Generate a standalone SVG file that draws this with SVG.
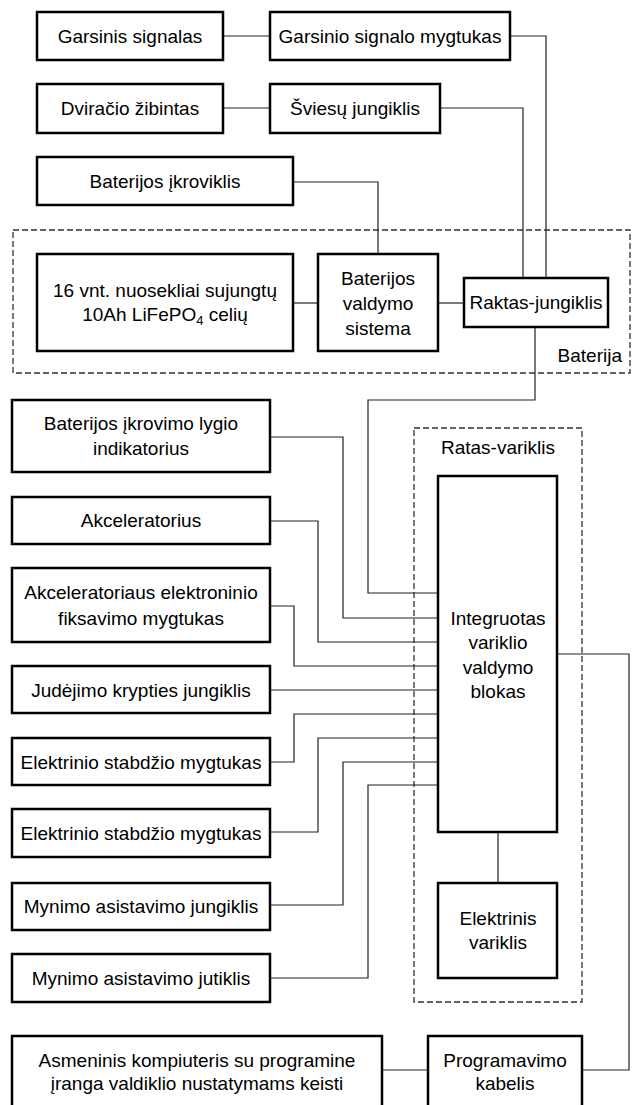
<svg xmlns="http://www.w3.org/2000/svg" width="635" height="1105" viewBox="0 0 635 1105">
<style>
  .box { fill: #fff; stroke: #000; stroke-width: 2.5; }
  .grp { fill: none; stroke: #333; stroke-width: 1.3; stroke-dasharray: 6 3; }
  .wire { fill: none; stroke: #222; stroke-width: 1.2; }
  text { font-family: "Liberation Sans", Arial, sans-serif; font-size: 19px; fill: #000; text-anchor: middle; }
</style>
<rect width="635" height="1105" fill="#fff"/>
<g id="groups">
  <rect id="baterija-group" class="grp" x="13" y="230" width="617" height="143"/>
  <text x="622" y="362" style="text-anchor:end">Baterija</text>
  <rect id="ratas-group" class="grp" x="414" y="428" width="168" height="574"/>
  <text x="498" y="454">Ratas-variklis</text>
</g>
<g id="connectors">
  <polyline class="wire" points="223,36 270,36"/>
  <polyline class="wire" points="510,36 546,36 546,278"/>
  <polyline class="wire" points="223,108 270,108"/>
  <polyline class="wire" points="440,108 523,108 523,278"/>
  <polyline class="wire" points="293,182 378,182 378,254"/>
  <polyline class="wire" points="293,303 318,303"/>
  <polyline class="wire" points="438,303 464,303"/>
  <polyline class="wire" points="535,327 535,400 368,400 368,593 438,593"/>
  <polyline class="wire" points="270,437 343,437 343,618 438,618"/>
  <polyline class="wire" points="270,521 318,521 318,642 438,642"/>
  <polyline class="wire" points="270,606 294,606 294,666 438,666"/>
  <polyline class="wire" points="270,690 438,690"/>
  <polyline class="wire" points="270,762 294,762 294,714 438,714"/>
  <polyline class="wire" points="270,832 318,832 318,738 438,738"/>
  <polyline class="wire" points="270,905 343,905 343,762 438,762"/>
  <polyline class="wire" points="270,978 368,978 368,785 438,785"/>
  <polyline class="wire" points="498,832 498,883"/>
  <polyline class="wire" points="557,654 629,654 629,1070 582,1070"/>
  <polyline class="wire" points="382,1070 428,1070"/>
</g>
<g id="garsinis-signalas"><rect class="box" x="37" y="12" width="186" height="48"/><text x="130" y="43">Garsinis signalas</text></g>
<g id="garsinio-signalo-mygtukas"><rect class="box" x="270" y="12" width="240" height="48"/><text x="390" y="43">Garsinio signalo mygtukas</text></g>
<g id="dviracio-zibintas"><rect class="box" x="37" y="84" width="186" height="49"/><text x="130" y="115">Dviračio žibintas</text></g>
<g id="sviesu-jungiklis"><rect class="box" x="270" y="84" width="170" height="49"/><text x="355" y="115">Šviesų jungiklis</text></g>
<g id="baterijos-ikroviklis"><rect class="box" x="37" y="157" width="256" height="48"/><text x="165" y="188">Baterijos įkroviklis</text></g>
<g id="celes"><rect class="box" x="37" y="254" width="256" height="97"/><text x="165" y="297">16 vnt. nuosekliai sujungtų</text><text x="165" y="321">10Ah LiFePO<tspan font-size="13" dy="4">4</tspan><tspan dy="-4"> celių</tspan></text></g>
<g id="bms"><rect class="box" x="318" y="254" width="120" height="97"/><text x="378" y="285">Baterijos</text><text x="378" y="310">valdymo</text><text x="378" y="335">sistema</text></g>
<g id="raktas-jungiklis"><rect class="box" x="464" y="278" width="144" height="49"/><text x="536" y="309">Raktas-jungiklis</text></g>
<g id="ikrovimo-indikatorius"><rect class="box" x="12" y="400" width="258" height="72"/><text x="141" y="430">Baterijos įkrovimo lygio</text><text x="141" y="455">indikatorius</text></g>
<g id="akceleratorius"><rect class="box" x="12" y="497" width="258" height="47"/><text x="141" y="527">Akceleratorius</text></g>
<g id="akceleratoriaus-fiksavimas"><rect class="box" x="12" y="568" width="258" height="74"/><text x="141" y="599">Akceleratoriaus elektroninio</text><text x="141" y="625">fiksavimo mygtukas</text></g>
<g id="judejimo-krypties-jungiklis"><rect class="box" x="12" y="666" width="258" height="47"/><text x="141" y="697">Judėjimo krypties jungiklis</text></g>
<g id="elektrinio-stabdzio-1"><rect class="box" x="12" y="738" width="258" height="47"/><text x="141" y="769">Elektrinio stabdžio mygtukas</text></g>
<g id="elektrinio-stabdzio-2"><rect class="box" x="12" y="809" width="258" height="48"/><text x="141" y="840">Elektrinio stabdžio mygtukas</text></g>
<g id="mynimo-jungiklis"><rect class="box" x="12" y="883" width="258" height="47"/><text x="141" y="913">Mynimo asistavimo jungiklis</text></g>
<g id="mynimo-jutiklis"><rect class="box" x="12" y="954" width="258" height="48"/><text x="141" y="985">Mynimo asistavimo jutiklis</text></g>
<g id="valdymo-blokas"><rect class="box" x="438" y="476" width="119" height="356"/><text x="498" y="625">Integruotas</text><text x="498" y="649">variklio</text><text x="498" y="674">valdymo</text><text x="498" y="698">blokas</text></g>
<g id="elektrinis-variklis"><rect class="box" x="438" y="883" width="119" height="95"/><text x="498" y="925">Elektrinis</text><text x="498" y="949">variklis</text></g>
<g id="kompiuteris"><rect class="box" x="12" y="1036" width="370" height="80"/><text x="197" y="1067">Asmeninis kompiuteris su programine</text><text x="197" y="1090">įranga valdiklio nustatymams keisti</text></g>
<g id="programavimo-kabelis"><rect class="box" x="428" y="1036" width="154" height="80"/><text x="505" y="1067">Programavimo</text><text x="505" y="1090">kabelis</text></g>
</svg>
